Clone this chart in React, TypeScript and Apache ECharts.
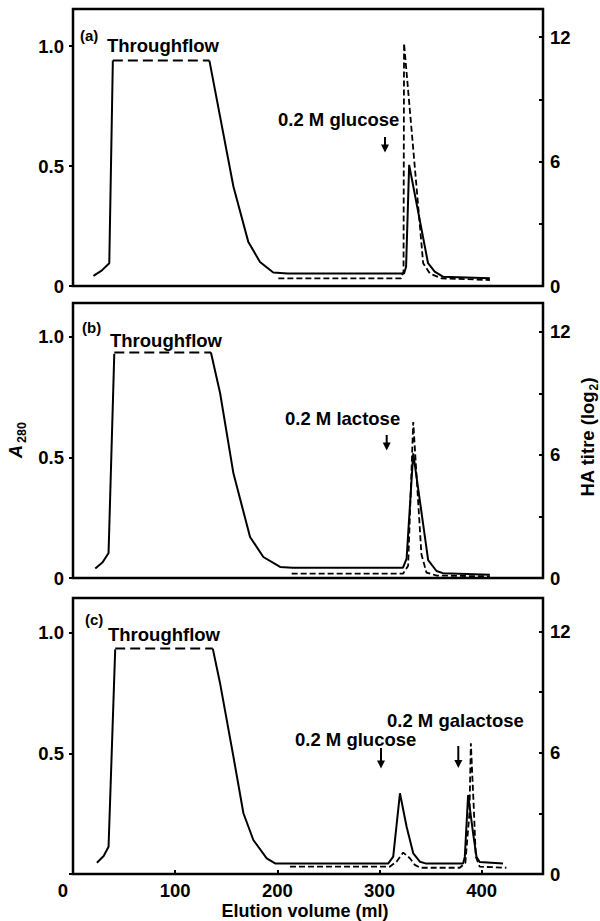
import React, { useEffect, useRef } from "react";
import * as echarts from "echarts";

const FONT = '"Liberation Sans", Arial, Helvetica, sans-serif';

// Axes
const xMax = 460;
const xTickValues = [100, 200, 300, 400];
const xLabelValues = [0, 100, 200, 300, 400];
const a280TickValues = [0, 0.5, 1.0];
// the bottom panel's left "0" is shared with the x axis "0"
const a280LabelValues = [[0, 0.5, 1.0], [0, 0.5, 1.0], [0.5, 1.0]];
const haTickValues = [0, 3, 6, 9, 12];
const haLabelValues = [0, 6, 12];
const a280Max = [1.155, 1.14, 1.145];
const haMax = [13.35, 13.4, 13.65];
const panelLetters = ["(a)", "(b)", "(c)"];

// Panel (a) — elution volume (ml), A280 / HA titre (log2)
const a280RiseA = [[20, 0.042], [28, 0.064], [35.5, 0.095], [39, 0.94]];
const a280PlateauA = [[39, 0.94], [133.5, 0.94]];
const a280TailA = [
  [133.5, 0.94], [157, 0.415], [171.5, 0.185], [183, 0.1], [196, 0.056], [210, 0.052],
  [324, 0.052], [326, 0.08], [329, 0.505], [347.5, 0.095], [354, 0.06], [362, 0.039], [408, 0.032],
];
const haTitreA = [
  [201, 0.37], [321, 0.37], [323.5, 0.7], [324, 11.7], [342.7, 1.1], [349.3, 0.6], [360.7, 0.37], [408, 0.29],
];

// Panel (b)
const a280RiseB = [[21.8, 0.039], [29, 0.065], [34.8, 0.104], [40.4, 0.93]];
const a280PlateauB = [[40.4, 0.935], [135, 0.935]];
const a280TailB = [
  [135, 0.935], [144, 0.766], [157, 0.434], [173.3, 0.17], [186.3, 0.087], [202.7, 0.046], [215, 0.043],
  [323, 0.043], [326.5, 0.08], [333, 0.517], [347.6, 0.074], [355.8, 0.029], [362, 0.02], [408, 0.013],
];
const haTitreB = [
  [214, 0.21], [323, 0.21], [328, 0.6], [333, 7.6], [341, 1.16], [346, 0.26], [356, 0.12], [408, 0.08],
];

// Panel (c)
const a280RiseC = [[23.4, 0.047], [30, 0.075], [34.8, 0.113], [41.3, 0.932]];
const a280PlateauC = [[41.3, 0.935], [136.8, 0.935]];
const a280TailC = [
  [136.8, 0.935], [144, 0.79], [157, 0.487], [166.8, 0.252], [176.5, 0.141], [189.6, 0.065], [197.8, 0.044],
  [308.6, 0.044], [313.4, 0.072], [320, 0.335], [326.5, 0.196], [333, 0.086], [339.5, 0.051], [345, 0.044],
  [381.8, 0.044], [383.5, 0.072], [386.7, 0.328], [391.6, 0.169], [394.9, 0.072], [398, 0.05], [420.9, 0.044],
];
const haTitreC = [
  [212.4, 0.36], [310, 0.36], [316.6, 0.61], [323.2, 1.06], [329.7, 0.78], [334.6, 0.45], [340, 0.31],
  [378.6, 0.31], [384, 0.55], [388, 3], [389.4, 6.47], [392.5, 3], [394.2, 0.86], [398, 0.36], [424.2, 0.31],
];

const panels = [
  { rise: a280RiseA, plateau: a280PlateauA, tail: a280TailA, ha: haTitreA },
  { rise: a280RiseB, plateau: a280PlateauB, tail: a280TailB, ha: haTitreB },
  { rise: a280RiseC, plateau: a280PlateauC, tail: a280TailC, ha: haTitreC },
];

// Layout (pixels)
const gridTops = [9, 303, 598];
const gridHeights = [277, 275, 276];
const letterPos = [[80, 35], [82, 327], [85, 619]];
const throughflowPos = [[107, 45], [110, 340], [108, 634]];
const elutionNotes = [
  { text: "0.2 M glucose", x: 278, y: 119.5 },
  { text: "0.2 M lactose", x: 285, y: 418.5 },
  { text: "0.2 M glucose", x: 295, y: 739 },
  { text: "0.2 M galactose", x: 387, y: 720 },
];
const arrows = [
  { x: 385, y1: 137, y2: 152.5 },
  { x: 386.7, y1: 435, y2: 450.5 },
  { x: 381, y1: 748, y2: 768.5 },
  { x: 458.3, y1: 746, y2: 768 },
];

function near(list: number[], v: number) {
  return list.some((t) => Math.abs(t - v) < 1e-6);
}

function buildOption() {
  const grid = gridTops.map((top, i) => ({
    left: 73,
    width: 470,
    top,
    height: gridHeights[i],
    show: true,
    borderColor: "#000",
    borderWidth: 2.5,
    backgroundColor: "transparent",
  }));

  const textStyle = { color: "#000", fontSize: 18.5, fontWeight: "bold", fontFamily: FONT };

  const xAxis = gridTops.map((_, i) => ({
    type: "value",
    gridIndex: i,
    min: 0,
    max: xMax,
    interval: 100,
    axisLine: { show: false },
    splitLine: { show: false },
    axisTick: {
      show: i === 2,
      inside: true,
      length: 4,
      lineStyle: { color: "#000", width: 2 },
      customValues: xTickValues,
    },
    axisLabel: {
      show: i === 2,
      customValues: xLabelValues,
      margin: 7,
      ...textStyle,
      formatter: (v: number) => (v === 0 ? "{z|0}" : near(xLabelValues, v) ? String(v) : ""),
      rich: { z: { ...textStyle, padding: [0, 20, 0, 0] } },
    },
  }));

  const yAxis: any[] = [];
  gridTops.forEach((_, i) => {
    const labels = a280LabelValues[i];
    yAxis.push({
      type: "value",
      gridIndex: i,
      position: "left",
      min: 0,
      max: a280Max[i],
      interval: 0.5,
      axisLine: { show: false },
      splitLine: { show: false },
      axisTick: {
        show: true,
        inside: false,
        length: 4,
        lineStyle: { color: "#000", width: 2 },
        customValues: a280TickValues,
      },
      axisLabel: {
        customValues: labels,
        margin: 9,
        ...textStyle,
        formatter: (v: number) =>
          !near(labels, v) ? "" : Math.abs(v) < 1e-9 ? "0" : v.toFixed(1),
      },
    });
    yAxis.push({
      type: "value",
      gridIndex: i,
      position: "right",
      min: 0,
      max: haMax[i],
      interval: 3,
      axisLine: { show: false },
      splitLine: { show: false },
      axisTick: {
        show: true,
        inside: true,
        length: 4,
        lineStyle: { color: "#000", width: 2 },
        customValues: haTickValues,
      },
      axisLabel: {
        customValues: haLabelValues,
        margin: 7,
        ...textStyle,
        formatter: (v: number) => (near(haLabelValues, v) ? String(v) : ""),
      },
    });
  });

  const line = (data: number[][], xi: number, yi: number, type: any, width: number) => ({
    type: "line",
    xAxisIndex: xi,
    yAxisIndex: yi,
    data,
    symbol: "none",
    showSymbol: false,
    silent: true,
    clip: false,
    lineStyle: { color: "#000", width, type },
  });

  const series: any[] = [];
  panels.forEach((p, i) => {
    series.push(line(p.rise, i, 2 * i, "solid", 2));
    series.push(line(p.plateau, i, 2 * i, [10, 5], 2));
    series.push(line(p.tail, i, 2 * i, "solid", 2));
    series.push(line(p.ha, i, 2 * i + 1, [6, 3], 1.8));
  });

  const txt = (text: string, x: number, y: number, size: number, align = "left", extra: any = {}) => ({
    type: "text",
    x,
    y,
    silent: true,
    style: {
      text,
      fill: "#000",
      fontSize: size,
      fontWeight: "bold",
      fontFamily: FONT,
      textAlign: align,
      textVerticalAlign: "middle",
      ...extra,
    },
  });

  const graphic: any[] = [];
  panelLetters.forEach((t, i) => graphic.push(txt(t, letterPos[i][0], letterPos[i][1], 15)));
  throughflowPos.forEach((p) => graphic.push(txt("Throughflow", p[0], p[1], 18.5)));
  elutionNotes.forEach((n) => graphic.push(txt(n.text, n.x, n.y, 18.5)));
  arrows.forEach((a) => {
    graphic.push({
      type: "line",
      silent: true,
      shape: { x1: a.x, y1: a.y1, x2: a.x, y2: a.y2 - 6 },
      style: { stroke: "#000", lineWidth: 2 },
    });
    graphic.push({
      type: "polygon",
      silent: true,
      shape: { points: [[a.x - 4, a.y2 - 8], [a.x + 4, a.y2 - 8], [a.x, a.y2]] },
      style: { fill: "#000" },
    });
  });

  // x axis title
  graphic.push(txt("Elution volume (ml)", 305, 910.5, 18, "center"));

  // left axis title: A280 (italic A, subscript 280)
  graphic.push({
    type: "group",
    x: 16,
    y: 450,
    rotation: Math.PI / 2,
    silent: true,
    children: [
      txt("A", -8, 0, 18, "left", { fontStyle: "italic" }),
      txt("280", 7, 6, 12.5, "left"),
    ],
  });

  // right axis title: HA titre (log2)
  graphic.push({
    type: "group",
    x: 587.5,
    y: 437.5,
    rotation: Math.PI / 2,
    silent: true,
    children: [
      txt("HA titre (log", -59, 0, 18.5, "left"),
      txt("2", 47, 6, 12, "left"),
      txt(")", 54, 0, 18.5, "left"),
    ],
  });

  return {
    animation: false,
    backgroundColor: "#fff",
    grid,
    xAxis,
    yAxis,
    series,
    graphic,
  };
}

export default function App() {
  const ref = useRef<HTMLDivElement>(null);
  useEffect(() => {
    if (!ref.current) return;
    const chart = echarts.init(ref.current, undefined, { renderer: "svg" });
    chart.setOption(buildOption() as any);
    return () => {
      chart.dispose();
    };
  }, []);
  return (
    <div
      ref={ref}
      style={{ position: "absolute", left: 0, top: 0, width: 600, height: 921, background: "#fff" }}
    />
  );
}
